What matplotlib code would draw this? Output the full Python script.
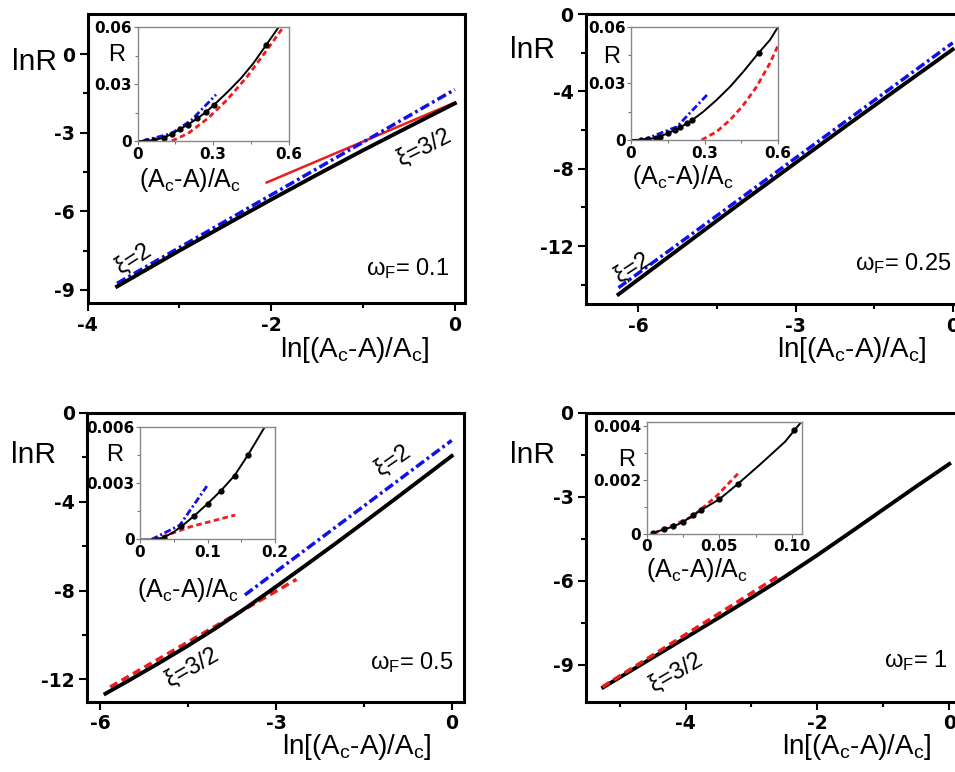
import matplotlib
matplotlib.use("Agg")
import matplotlib.pyplot as plt

plt.rcParams['font.family'] = ['Liberation Sans', 'DejaVu Sans']
plt.rcParams['axes.unicode_minus'] = False
plt.rcParams['lines.scale_dashes'] = False
plt.rcParams['mathtext.default'] = 'regular'

# ---------------- panel (a): omega_F = 0.1 ----------------
a_black_x = [-3.68, -3.0, -2.5, -2.0, -1.5, -1.0, -0.5, 0.0]
a_black_y = [-8.87, -7.5, -6.52, -5.55, -4.6, -3.67, -2.77, -1.88]
a_blue_x = [-3.68, 0.0]
a_blue_y = [-8.75, -1.35]
a_red_x = [-2.05, 0.0]
a_red_y = [-4.9, -1.85]
a_in_black_x = [0.0, 0.032, 0.065, 0.104, 0.136, 0.169, 0.201, 0.238, 0.273, 0.305, 0.36, 0.41, 0.46, 0.51, 0.56]
a_in_black_y = [0, 0, 0.0005, 0.0017, 0.0037, 0.0063, 0.0087, 0.0119, 0.0154, 0.0192, 0.0262, 0.033, 0.041, 0.0505, 0.06]
a_in_dots_x = [0.032, 0.065, 0.104, 0.136, 0.169, 0.201, 0.238, 0.273, 0.305, 0.51]
a_in_dots_y = [0, 0.0005, 0.0017, 0.0037, 0.0063, 0.0087, 0.0119, 0.0154, 0.0192, 0.0505]
a_in_red_x = [0.136, 0.201, 0.279, 0.357, 0.435, 0.513, 0.578]
a_in_red_y = [0, 0.004, 0.0119, 0.0219, 0.0339, 0.0479, 0.06]
a_in_blue_x = [0.02, 0.136, 0.214, 0.312]
a_in_blue_y = [0, 0.004, 0.011, 0.0245]

# ---------------- panel (b): omega_F = 0.25 ----------------
b_black_x = [-6.38, -5.0, -4.0, -3.0, -2.0, -1.0, 0.0]
b_black_y = [-14.5, -11.7, -9.68, -7.7, -5.72, -3.77, -1.83]
b_blue_x = [-6.38, 0.0]
b_blue_y = [-14.16, -1.49]
b_in_black_x = [0, 0.05, 0.092, 0.146, 0.2, 0.241, 0.295, 0.349, 0.404, 0.458, 0.519, 0.566, 0.6]
b_in_black_y = [0, 0.0001, 0.0009, 0.0032, 0.0067, 0.0097, 0.015, 0.0212, 0.0282, 0.0362, 0.0459, 0.0529, 0.06]
b_in_dots_x = [0.04, 0.07, 0.1, 0.12, 0.15, 0.18, 0.2, 0.23, 0.25, 0.52]
b_in_dots_y = [0.0001, 0.0004, 0.0011, 0.0018, 0.0035, 0.0055, 0.0067, 0.0089, 0.0104, 0.046]
b_in_red_x = [0.288, 0.349, 0.404, 0.458, 0.512, 0.566, 0.6]
b_in_red_y = [0, 0.0044, 0.0106, 0.0185, 0.0282, 0.0406, 0.0503]
b_in_blue_x = [0.05, 0.187, 0.316]
b_in_blue_y = [0, 0.007, 0.0247]

# ---------------- panel (c): omega_F = 0.5 ----------------
c_black_x = [-5.91, -5.5, -5.0, -4.5, -4.0, -3.5, -3.0, -2.5, -2.0, -1.5, -1.0, -0.5, 0.0]
c_black_y = [-12.64, -12.03, -11.27, -10.48, -9.65, -8.76, -7.83, -6.88, -5.92, -4.94, -3.95, -2.95, -1.95]
c_blue_x = [-3.53, 0.0]
c_blue_y = [-8.2, -1.25]
c_red_x = [-5.83, -2.65]
c_red_y = [-12.34, -7.5]
c_in_black_x = [0, 0.02, 0.035, 0.05, 0.065, 0.08, 0.1, 0.12, 0.14, 0.16, 0.185]
c_in_black_y = [0, 0, 0.0001, 0.0004, 0.0008, 0.00125, 0.0019, 0.0026, 0.0034, 0.0045, 0.006]
c_in_dots_x = [0.035, 0.06, 0.08, 0.1, 0.12, 0.14, 0.16]
c_in_dots_y = [0.0001, 0.0007, 0.00125, 0.0019, 0.0026, 0.0034, 0.0045]
c_in_red_x = [0.02, 0.04, 0.074, 0.109, 0.141]
c_in_red_y = [0, 0.00023, 0.00067, 0.001, 0.0013]
c_in_blue_x = [0.017, 0.059, 0.099]
c_in_blue_y = [0, 0.00076, 0.00284]

# ---------------- panel (d): omega_F = 1 ----------------
d_black_x = [-5.25, -4.5, -4.0, -3.5, -3.0, -2.5, -2.0, -1.5, -1.0, -0.5, 0.0]
d_black_y = [-9.8, -8.74, -8.03, -7.32, -6.6, -5.86, -5.08, -4.27, -3.45, -2.63, -1.83]
d_red_x = [-5.26, -2.57]
d_red_y = [-9.78, -5.8]
d_in_black_x = [0.0036, 0.0119, 0.0186, 0.025, 0.031, 0.038, 0.05, 0.063, 0.0786, 0.0952, 0.107]
d_in_black_y = [0.00002, 0.00015, 0.00027, 0.00043, 0.00065, 0.00089, 0.00128, 0.00186, 0.0026, 0.00342, 0.0042]
d_in_dots_x = [0.004, 0.012, 0.018, 0.025, 0.032, 0.037, 0.05, 0.063, 0.101]
d_in_dots_y = [0.00002, 0.00015, 0.00027, 0.00043, 0.00068, 0.00086, 0.00128, 0.00186, 0.00385]
d_in_red_x = [0.0048, 0.031, 0.0476, 0.064]
d_in_red_y = [0, 0.00062, 0.00137, 0.0023]

BLUE = '#1010ee'
RED = '#ee1c1c'
DASHDOT = (0, (7, 2.5, 2, 2.5))
DASHED = (0, (6, 3.5))
TICKFONT = dict(fontfamily='DejaVu Sans', fontweight='bold')
XLAB = r'ln[(A$_\mathregular{c}$-A)/A$_\mathregular{c}$]'
INXLAB = r'(A$_\mathregular{c}$-A)/A$_\mathregular{c}$'


def style_main(ax, xlim, ylim, xticks, yticks, xminor, yminor):
    ax.set_xlim(xlim)
    ax.set_ylim(ylim)
    ax.set_xticks(xticks)
    ax.set_xticklabels([str(t) for t in xticks], fontsize=13.5, **TICKFONT)
    ax.set_yticks(yticks)
    ax.set_yticklabels([str(t) for t in yticks], fontsize=13.5, **TICKFONT)
    ax.set_xticks(xminor, minor=True)
    ax.set_yticks(yminor, minor=True)
    ax.tick_params(which='both', direction='out', width=1.5, top=False, right=False)
    ax.tick_params(which='major', length=6, pad=3)
    ax.tick_params(which='minor', length=3.5)
    for s in ax.spines.values():
        s.set_linewidth(2.2)


def style_inset(ax, xlim, ylim, xticks, xlabels, yticks, ylabels, xminor, yminor):
    ax.set_xlim(xlim)
    ax.set_ylim(ylim)
    ax.set_xticks(xticks)
    ax.set_xticklabels(xlabels, fontsize=11, **TICKFONT)
    ax.set_yticks(yticks)
    ax.set_yticklabels(ylabels, fontsize=11, **TICKFONT)
    ax.set_xticks(xminor, minor=True)
    ax.set_yticks(yminor, minor=True)
    ax.tick_params(which='both', direction='out', width=0.8, color='#777777',
                   top=False, right=False, pad=1)
    ax.tick_params(which='major', length=3)
    ax.tick_params(which='minor', length=2)
    for s in ax.spines.values():
        s.set_linewidth(1.0)
        s.set_color('#888888')


def inset_curves(ax, bx, by, dx, dy, rx=None, ry=None, ux=None, uy=None):
    if rx is not None:
        ax.plot(rx, ry, color=RED, lw=2, linestyle=(0, (4, 2.5)))
    if ux is not None:
        ax.plot(ux, uy, color=BLUE, lw=2, linestyle=(0, (5, 2, 1.5, 2)))
    ax.plot(bx, by, color='black', lw=1.4)
    ax.plot(dx, dy, 'o', color='black', ms=3.5)


fig = plt.figure(figsize=(9.55, 7.72), dpi=100)

# ===== (a) =====
ax = fig.add_axes([0.0918, 0.6075, 0.3951, 0.375])
ax.plot(a_red_x, a_red_y, color=RED, lw=1.8)
ax.plot(a_blue_x, a_blue_y, color=BLUE, lw=2.5, linestyle=DASHDOT)
ax.plot(a_black_x, a_black_y, color='black', lw=2.8)
style_main(ax, (-4, 0.11), (-9.5, 1.55), [-4, -2, 0], [0, -3, -6, -9],
           [-3, -1], [-1.5, -4.5, -7.5])
ax.text(-0.34, -3.57, 'ξ=3/2', rotation=27, fontsize=17, ha='center', va='center')
ax.text(-3.5, -7.8, 'ξ=2', rotation=33, fontsize=17, ha='center', va='center')
ax.text(-0.51, -8.17, r'ω$_\mathregular{F}$= 0.1', fontsize=17, ha='center', va='center')
fig.text(0.0366, 0.9197, 'lnR', fontsize=21.5, ha='center', va='center')
fig.text(0.3717, 0.5466, XLAB, fontsize=20, ha='center', va='center')

ins = fig.add_axes([0.144, 0.8174, 0.1581, 0.147])
inset_curves(ins, a_in_black_x, a_in_black_y, a_in_dots_x, a_in_dots_y,
             a_in_red_x, a_in_red_y, a_in_blue_x, a_in_blue_y)
style_inset(ins, (0, 0.6), (0, 0.06), [0, 0.3, 0.6], ['0', '0.3', '0.6'],
            [0, 0.03, 0.06], ['0', '0.03', '0.06'], [0.15, 0.45], [0.015, 0.045])
fig.text(0.1225, 0.9288, 'R', fontsize=17, ha='center', va='center')
fig.text(0.199, 0.7668, INXLAB, fontsize=18, ha='center', va='center')

# ===== (b) =====
ax = fig.add_axes([0.6136, 0.6062, 0.3944, 0.3756])
ax.plot(b_blue_x, b_blue_y, color=BLUE, lw=2.5, linestyle=DASHDOT)
ax.plot(b_black_x, b_black_y, color='black', lw=2.8)
style_main(ax, (-7, 0.19), (-15, 0), [-6, -3, 0], [0, -4, -8, -12],
           [-4.5, -1.5], [-2, -6, -10, -14])
ax.text(-6.12, -13.1, 'ξ=2', rotation=33, fontsize=17, ha='center', va='center')
ax.text(-0.95, -12.9, r'ω$_\mathregular{F}$= 0.25', fontsize=17, ha='center', va='center')
fig.text(0.558, 0.935, 'lnR', fontsize=21.5, ha='center', va='center')
fig.text(0.892, 0.5466, XLAB, fontsize=20, ha='center', va='center')

ins = fig.add_axes([0.6607, 0.8187, 0.1542, 0.1468])
inset_curves(ins, b_in_black_x, b_in_black_y, b_in_dots_x, b_in_dots_y,
             b_in_red_x, b_in_red_y, b_in_blue_x, b_in_blue_y)
style_inset(ins, (0, 0.6), (0, 0.06), [0, 0.3, 0.6], ['0', '0.3', '0.6'],
            [0, 0.03, 0.06], ['0', '0.03', '0.06'], [0.15, 0.45], [0.015, 0.045])
fig.text(0.6405, 0.9266, 'R', fontsize=17, ha='center', va='center')
fig.text(0.7155, 0.7711, INXLAB, fontsize=18, ha='center', va='center')

# ===== (c) =====
ax = fig.add_axes([0.0914, 0.0911, 0.3948, 0.3744])
ax.plot(c_red_x, c_red_y, color=RED, lw=2.5, linestyle=DASHED)
ax.plot(c_blue_x, c_blue_y, color=BLUE, lw=2.5, linestyle=DASHDOT)
ax.plot(c_black_x, c_black_y, color='black', lw=2.8)
style_main(ax, (-6.22, 0.215), (-13, 0), [-6, -3, 0], [0, -4, -8, -12],
           [-4.5, -1.5], [-2, -6, -10])
ax.text(-1.0, -2.14, 'ξ=2', rotation=35, fontsize=17, ha='center', va='center')
ax.text(-4.43, -11.46, 'ξ=3/2', rotation=30, fontsize=17, ha='center', va='center')
ax.text(-0.68, -11.23, r'ω$_\mathregular{F}$= 0.5', fontsize=17, ha='center', va='center')
fig.text(0.0346, 0.4106, 'lnR', fontsize=21.5, ha='center', va='center')
fig.text(0.3738, 0.033, XLAB, fontsize=20, ha='center', va='center')

ins = fig.add_axes([0.1466, 0.3012, 0.1414, 0.1461])
inset_curves(ins, c_in_black_x, c_in_black_y, c_in_dots_x, c_in_dots_y,
             c_in_red_x, c_in_red_y, c_in_blue_x, c_in_blue_y)
style_inset(ins, (0, 0.2), (0, 0.006), [0, 0.1, 0.2], ['0', '0.1', '0.2'],
            [0, 0.003, 0.006], ['0', '0.003', '0.006'], [0.05, 0.15], [0.0015, 0.0045])
fig.text(0.1204, 0.4106, 'R', fontsize=17, ha='center', va='center')
fig.text(0.1972, 0.2358, INXLAB, fontsize=18, ha='center', va='center')

# ===== (d) =====
ax = fig.add_axes([0.6136, 0.0911, 0.3906, 0.3744])
ax.plot(d_black_x, d_black_y, color='black', lw=2.8)
ax.plot(d_red_x, d_red_y, color=RED, lw=2.5, linestyle=DASHED)
style_main(ax, (-5.51, 0.147), (-10.31, 0), [-4, -2, 0], [0, -3, -6, -9],
           [-5, -3, -1], [-1.5, -4.5, -7.5])
ax.text(-4.14, -9.25, 'ξ=3/2', rotation=30, fontsize=17, ha='center', va='center')
ax.text(-0.5, -8.83, r'ω$_\mathregular{F}$= 1', fontsize=17, ha='center', va='center')
fig.text(0.558, 0.4106, 'lnR', fontsize=21.5, ha='center', va='center')
fig.text(0.897, 0.033, XLAB, fontsize=20, ha='center', va='center')

ins = fig.add_axes([0.6772, 0.3089, 0.1629, 0.1448])
inset_curves(ins, d_in_black_x, d_in_black_y, d_in_dots_x, d_in_dots_y,
             d_in_red_x, d_in_red_y)
style_inset(ins, (0, 0.107), (0, 0.00416), [0, 0.05, 0.10], ['0', '0.05', '0.10'],
            [0, 0.002, 0.004], ['0', '0.002', '0.004'], [0.025, 0.075], [0.001, 0.003])
fig.text(0.6562, 0.4041, 'R', fontsize=17, ha='center', va='center')
fig.text(0.7295, 0.2617, INXLAB, fontsize=18, ha='center', va='center')

fig.savefig('out.png', dpi=100)
